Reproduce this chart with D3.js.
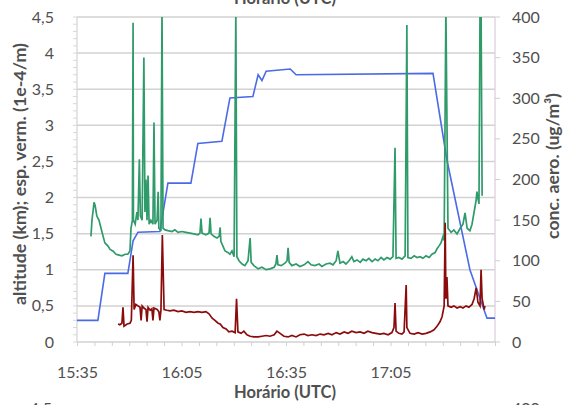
<!DOCTYPE html>
<html><head><meta charset="utf-8">
<script src="https://cdn.jsdelivr.net/npm/d3@7"></script>
<style>
html,body{margin:0;padding:0;background:#fff;}
svg{display:block;font-family:Lato,"Open Sans",sans-serif;}
</style></head><body>
<svg id="c" width="569" height="405"></svg>
<script>
// ---- data (minutes after 15:35 UTC) ----
const altMin = [0, 6.0, 8.0, 14.6, 16.1, 17.5, 23.8, 26.1, 32.7, 34.7, 41.6, 43.9, 50.5, 52.0, 53.1, 54.3, 61.2, 62.9, 102.2, 106.2, 112.8, 117.7, 120];
const altKm  = [0.3, 0.3, 0.95, 0.95, 1.4, 1.52, 1.53, 2.2, 2.2, 2.75, 2.78, 3.38, 3.4, 3.7, 3.62, 3.75, 3.78, 3.7, 3.72, 2.52, 1.0, 0.33, 0.33];

const aeroMin = [4.0, 4.3, 4.9, 5.2, 5.7, 6.3, 6.9, 7.5, 8.0, 8.9, 9.5, 10.3, 11.2, 12.1, 12.9, 13.8, 14.6, 15.2, 15.5, 15.9, 16.1, 16.2, 16.7, 17.2, 17.5, 17.9, 18.2, 18.7, 19.2, 19.5, 19.8, 20.1, 20.4, 20.7, 21.2, 21.8, 22.1, 22.4, 23.0, 23.3, 23.5, 24.1, 24.4, 24.7, 25.3, 26.1, 27.3, 28.1, 29.0, 30.1, 31.3, 32.4, 33.6, 34.7, 35.3, 35.6, 35.9, 37.0, 37.9, 38.2, 38.5, 39.3, 40.2, 40.8, 41.1, 41.3, 41.9, 42.5, 43.4, 43.9, 44.5, 45.1, 45.6, 45.9, 46.5, 47.4, 48.2, 49.1, 49.7, 50.0, 50.8, 52.0, 53.1, 54.3, 55.4, 56.6, 57.1, 57.4, 57.7, 58.6, 59.7, 60.3, 60.6, 60.9, 61.7, 62.9, 64.0, 65.2, 66.3, 67.2, 68.3, 69.5, 70.3, 71.5, 72.6, 73.5, 74.4, 74.9, 75.5, 76.4, 77.2, 78.1, 78.9, 79.5, 80.4, 81.3, 82.1, 83.0, 83.8, 84.7, 85.6, 86.4, 87.3, 88.1, 89.0, 89.9, 90.7, 91.3, 91.6, 92.4, 93.3, 94.2, 94.7, 95.0, 95.9, 96.8, 97.6, 98.5, 99.3, 100.2, 101.1, 101.9, 102.8, 103.4, 103.9, 104.5, 105.1, 105.4, 105.9, 106.5, 107.4, 108.2, 109.1, 110.0, 110.8, 111.4, 112.0, 112.8, 113.4, 114.0, 114.6, 114.8, 115.4, 115.7, 116.0, 116.3];
const aeroVal = [130, 150, 172, 168, 155, 150, 140, 130, 122, 118, 114, 112, 108, 107, 106, 108, 108, 112, 140, 150, 393, 150, 145, 160, 150, 225, 155, 150, 350, 160, 200, 150, 205, 145, 150, 145, 270, 145, 150, 185, 140, 138, 410, 140, 138, 137, 136, 138, 135, 136, 135, 134, 133, 132, 134, 152, 134, 132, 134, 153, 133, 130, 128, 130, 141, 124, 118, 112, 110, 108, 112, 105, 410, 105, 100, 96, 94, 100, 128, 98, 94, 90, 92, 89, 90, 92, 96, 107, 95, 94, 97, 100, 116, 98, 94, 96, 93, 95, 99, 95, 94, 96, 93, 96, 97, 95, 100, 112, 97, 99, 96, 100, 105, 99, 101, 98, 102, 100, 103, 99, 102, 100, 104, 101, 104, 102, 105, 239, 103, 104, 102, 106, 390, 104, 103, 106, 104, 105, 103, 106, 104, 108, 110, 115, 118, 122, 130, 125, 410, 140, 135, 138, 133, 140, 145, 159, 140, 137, 145, 160, 175, 185, 170, 410, 410, 180];

const extMin = [11.8, 12.3, 12.9, 13.2, 13.5, 14.4, 15.2, 15.6, 16.1, 16.4, 16.9, 17.5, 18.1, 18.4, 18.7, 19.2, 19.8, 20.1, 20.4, 21.0, 21.5, 21.8, 22.1, 23.0, 23.5, 23.8, 24.1, 24.5, 25.0, 25.8, 26.7, 27.8, 29.0, 30.1, 31.3, 32.4, 33.6, 34.7, 35.9, 37.0, 37.9, 38.8, 39.6, 40.5, 41.1, 41.9, 42.8, 43.6, 44.5, 45.4, 45.8, 46.2, 47.1, 47.9, 48.8, 49.7, 50.8, 52.0, 53.1, 54.3, 55.4, 56.6, 57.4, 58.3, 59.4, 60.6, 61.7, 62.9, 64.0, 65.2, 66.3, 67.5, 68.6, 69.8, 70.9, 72.1, 73.2, 74.4, 75.5, 76.7, 77.8, 78.9, 80.1, 81.3, 82.4, 83.5, 84.7, 85.8, 87.0, 88.1, 89.3, 90.4, 91.0, 91.3, 91.6, 92.4, 93.3, 93.9, 94.5, 94.7, 95.6, 96.8, 97.9, 99.1, 100.2, 101.4, 102.5, 103.4, 104.2, 104.8, 105.4, 105.7, 105.9, 106.2, 106.5, 107.4, 108.2, 109.1, 110.0, 110.8, 111.7, 112.5, 113.4, 114.0, 114.6, 115.1, 115.7, 116.0, 116.3, 116.9, 117.1];
const extVal = [0.25, 0.24, 0.26, 0.48, 0.22, 0.25, 0.26, 0.3, 1.2, 0.45, 0.52, 0.5, 0.48, 0.3, 0.5, 0.47, 0.45, 0.28, 0.48, 0.44, 0.46, 0.3, 0.47, 0.45, 0.42, 0.3, 0.44, 1.48, 0.45, 0.44, 0.43, 0.44, 0.42, 0.43, 0.41, 0.42, 0.41, 0.42, 0.41, 0.42, 0.39, 0.33, 0.3, 0.26, 0.25, 0.2, 0.18, 0.14, 0.15, 0.13, 0.6, 0.14, 0.12, 0.15, 0.1, 0.08, 0.07, 0.07, 0.08, 0.09, 0.08, 0.1, 0.15, 0.12, 0.08, 0.07, 0.09, 0.07, 0.1, 0.11, 0.09, 0.1, 0.09, 0.11, 0.1, 0.12, 0.1, 0.13, 0.11, 0.14, 0.12, 0.15, 0.13, 0.14, 0.12, 0.15, 0.13, 0.12, 0.11, 0.12, 0.1, 0.13, 0.2, 0.54, 0.15, 0.12, 0.11, 0.14, 0.79, 0.2, 0.12, 0.11, 0.13, 0.11, 0.12, 0.14, 0.17, 0.22, 0.28, 0.35, 0.5, 1.65, 0.6, 0.9, 0.5, 0.48, 0.5, 0.47, 0.49, 0.47, 0.5, 0.48, 0.52, 0.6, 0.75, 0.55, 0.5, 1.0, 0.6, 0.45, 0.5];

const leftTicks = [0, 0.5, 1, 1.5, 2, 2.5, 3, 3.5, 4, 4.5];
const leftTickLabels = ["0", "0,5", "1", "1,5", "2", "2,5", "3", "3,5", "4", "4,5"];
const rightTicks = [0, 50, 100, 150, 200, 250, 300, 350, 400];
const xLabelMinutes = [0, 30, 60, 90];
const xLabels = ["15:35", "16:05", "16:35", "17:05"];
const xTitle = "Horário (UTC)";
const leftTitle = "altitude (km); esp. verm. (1e-4/m)";
const rightTitle = "conc. aero. (ug/m³)";

// ---- layout ----
const L = 77, R = 495, T = 17, B = 342;
const base = new Date(2000, 0, 1, 15, 35, 0);
const toDate = m => new Date(base.getTime() + m * 60000);

const x = d3.scaleTime().domain([toDate(0), toDate(120)]).range([L, R]);
const yL = d3.scaleLinear().domain([0, 4.5]).range([B, T]);
const yR = d3.scaleLinear().domain([0, 400]).range([B, T]);

const svg = d3.select("#c");
const font = "Lato, 'Open Sans', sans-serif";
const txt = "#505050";

svg.append("defs").append("clipPath").attr("id", "pc")
  .append("rect").attr("x", L).attr("y", T).attr("width", R - L).attr("height", B - T);

// gridlines
svg.append("g").selectAll("line").data(leftTicks).join("line")
  .attr("x1", L).attr("x2", R)
  .attr("y1", d => yL(d)).attr("y2", d => yL(d))
  .attr("stroke", "#d2d2d2").attr("stroke-width", 1.5);

// left axis line + minor ticks
const leftMinor = d3.range(0, 46).map(i => i / 10);
svg.append("g").selectAll("line").data(leftMinor).join("line")
  .attr("x1", L - 4).attr("x2", L)
  .attr("y1", d => yL(d)).attr("y2", d => yL(d))
  .attr("stroke", "#d8d8d8").attr("stroke-width", 1);
svg.append("line").attr("x1", L).attr("x2", L).attr("y1", T).attr("y2", B)
  .attr("stroke", "#d4d4d4").attr("stroke-width", 1.2);

// right axis line + ticks
svg.append("line").attr("x1", R).attr("x2", R).attr("y1", T).attr("y2", B)
  .attr("stroke", "#dccbdc").attr("stroke-width", 1.2);
svg.append("g").selectAll("line").data(rightTicks).join("line")
  .attr("x1", R).attr("x2", R + 5)
  .attr("y1", d => yR(d)).attr("y2", d => yR(d))
  .attr("stroke", "#d8c8d8").attr("stroke-width", 1);

// x axis ticks
const xAxis = d3.axisBottom(x)
  .tickValues(d3.range(0, 121, 5).map(toDate))
  .tickSize(4)
  .tickPadding(21)
  .tickFormat(d => {
    const m = Math.round((d - base) / 60000);
    const i = xLabelMinutes.indexOf(m);
    return i >= 0 ? xLabels[i] : "";
  });
const gx = svg.append("g").attr("transform", `translate(0,${B})`).call(xAxis);
gx.select(".domain").remove();
gx.selectAll(".tick line").attr("stroke", "#d0d0d0");
gx.selectAll(".tick text").attr("fill", txt).style("font-family", font).style("font-size", "16px");

// series
const plot = svg.append("g").attr("clip-path", "url(#pc)");
const lineL = d3.line().x(d => x(toDate(d[0]))).y(d => yL(d[1]));
const lineR = d3.line().x(d => x(toDate(d[0]))).y(d => yR(d[1]));

plot.append("path").datum(altMin.map((m, i) => [m, altKm[i]]))
  .attr("d", lineL).attr("fill", "none").attr("stroke", "#4b6be6").attr("stroke-width", 1.6);
plot.append("path").datum(aeroMin.map((m, i) => [m, aeroVal[i]]))
  .attr("d", lineR).attr("fill", "none").attr("stroke", "#2f9a6a").attr("stroke-width", 1.7);
plot.append("path").datum(extMin.map((m, i) => [m, extVal[i]]))
  .attr("d", lineL).attr("fill", "none").attr("stroke", "#8a0c0c").attr("stroke-width", 1.7);

// tick labels
svg.append("g").selectAll("text").data(leftTicks).join("text")
  .attr("x", 54).attr("y", d => yL(d)).attr("dy", "0.35em")
  .attr("text-anchor", "end").attr("fill", txt)
  .style("font-family", font).style("font-size", "16px")
  .text((d, i) => leftTickLabels[i]);
svg.append("g").selectAll("text").data(rightTicks).join("text")
  .attr("x", 512).attr("y", d => yR(d)).attr("dy", "0.35em")
  .attr("text-anchor", "start").attr("fill", txt)
  .style("font-family", font).style("font-size", "16px")
  .text(d => d);

// titles
function fitText(sel, target) {
  const len = sel.node().getComputedTextLength();
  const fs = parseFloat(sel.style("font-size"));
  sel.style("font-size", (fs * target / len).toFixed(2) + "px");
}
svg.append("text").attr("x", 285).attr("y", 392).attr("dy", "0.35em")
  .attr("text-anchor", "middle").attr("fill", txt)
  .style("font-family", font).style("font-size", "16.5px").style("font-weight", "bold")
  .text(xTitle);
svg.append("text").attr("x", 285).attr("y", 4)
  .attr("text-anchor", "middle").attr("fill", txt)
  .style("font-family", font).style("font-size", "16.5px").style("font-weight", "bold")
  .text(xTitle);
const lt = svg.append("text").attr("transform", "translate(20,174) rotate(-90)").attr("dy", "0.35em")
  .attr("text-anchor", "middle").attr("fill", txt)
  .style("font-family", font).style("font-size", "16px").style("font-weight", "bold")
  .text(leftTitle);
fitText(lt, 262);
const rt = svg.append("text").attr("transform", "translate(553,166) rotate(-90)").attr("dy", "0.35em")
  .attr("text-anchor", "middle").attr("fill", txt)
  .style("font-family", font).style("font-size", "16px").style("font-weight", "bold")
  .text(rightTitle);
fitText(rt, 146);

// partial labels of the chart below (cut off at the bottom edge)
svg.append("text").attr("x", 52).attr("y", 414).attr("text-anchor", "end").attr("fill", txt)
  .style("font-family", font).style("font-size", "16px").text("4,5");
svg.append("text").attr("x", 512).attr("y", 414).attr("text-anchor", "start").attr("fill", txt)
  .style("font-family", font).style("font-size", "16px").text("400");
</script>
</body></html>
